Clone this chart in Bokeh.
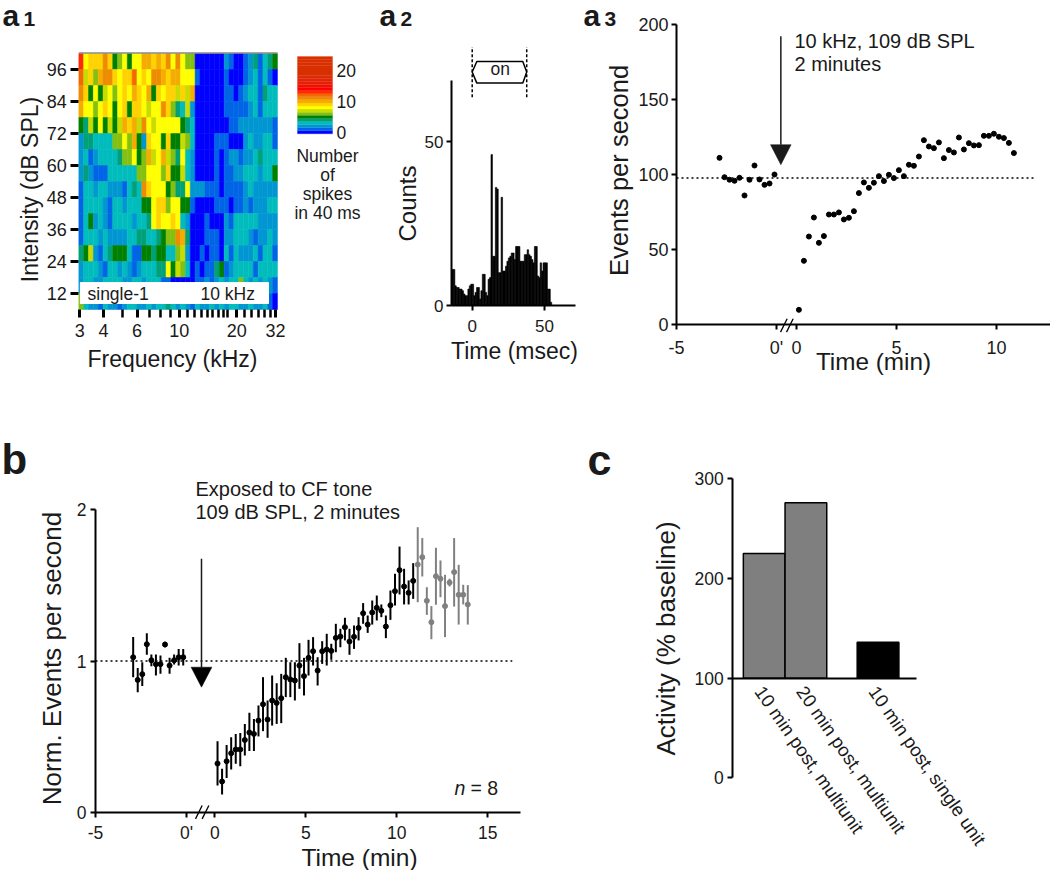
import math
import numpy as np
from bokeh.embed import file_html
from bokeh.resources import INLINE
from bokeh.layouts import row, column
from bokeh.models import (ColumnDataSource, FixedTicker, Label, LinearColorMapper, Range1d)
from bokeh.plotting import figure
from bokeh.transform import transform

FONT = "Liberation Sans"

# ---------- a1 data
heat_freq_low, heat_freq_high = 2.964, 32.77
heat_row_floor = [96, 90, 84, 78, 72, 66, 60, 54, 48, 42, 36, 30, 24, 18, 12, 6]
heat_rows = [
 [13,8,9,9,9,11,9,5,6,8,5,8,8,10,10,9,10,9,11,8,11,8,6,6,0,0,0,0,0,0,2,1,0,0,1,2,4,1,3,4,5],
 [12,7,9,6,10,11,11,9,8,9,9,12,8,9,8,11,11,10,9,10,10,8,8,8,1,0,0,0,0,0,1,0,0,0,1,2,3,1,3,1,0],
 [11,9,5,8,5,7,8,6,8,9,8,10,9,8,10,5,9,8,9,9,7,9,7,10,0,0,0,0,0,0,1,1,0,1,2,3,3,1,4,3,3],
 [10,8,8,6,8,9,8,5,8,9,5,9,9,8,7,8,8,11,9,6,4,3,7,2,0,0,0,0,0,0,1,1,1,1,1,2,3,1,3,3,3],
 [5,4,7,5,8,5,7,5,7,10,9,10,7,11,8,7,8,8,8,8,8,5,4,3,0,0,0,0,0,0,0,1,1,2,2,2,2,2,2,2,1],
 [2,4,4,3,3,3,3,6,6,8,6,10,5,2,9,8,8,5,9,5,5,7,6,3,0,0,0,0,1,1,1,0,0,0,2,3,2,2,3,3,1],
 [2,3,1,2,3,3,3,3,4,6,6,8,5,6,10,7,8,10,7,6,4,8,3,2,0,0,0,0,1,0,1,2,2,1,2,2,3,4,3,3,3],
 [2,4,2,1,1,1,3,3,3,3,3,3,6,6,8,8,8,6,9,5,5,7,3,2,0,0,0,0,1,0,1,1,2,2,3,3,3,2,3,3,5],
 [1,3,3,2,3,3,2,2,2,1,3,4,3,11,9,8,8,8,5,6,4,4,8,2,2,2,1,1,1,0,1,1,1,1,2,3,2,2,2,2,2],
 [1,3,3,3,3,2,1,3,3,2,3,3,3,5,5,8,9,9,6,8,8,5,5,1,0,0,0,0,1,1,1,0,1,1,2,1,2,2,2,3,3],
 [1,3,5,2,3,2,1,3,3,3,3,2,3,3,4,8,9,8,8,9,8,3,2,0,0,0,1,0,0,0,2,1,3,3,3,3,3,2,2,2,2],
 [1,3,3,3,2,3,2,2,2,2,3,3,4,4,3,3,4,5,6,6,11,10,4,0,0,0,1,1,1,0,2,2,3,3,3,2,1,2,2,3,2],
 [4,5,7,2,1,3,4,5,5,5,3,1,1,5,5,4,5,5,3,3,6,7,2,0,0,1,0,1,1,0,3,1,3,2,2,2,3,1,3,3,1],
 [2,3,3,3,2,1,3,3,2,3,2,1,2,3,3,3,4,4,8,5,7,6,3,0,1,0,1,1,4,5,1,2,3,3,3,3,1,3,3,3,3],
 [2,3,3,2,2,3,3,3,3,2,2,3,3,2,3,3,3,1,1,0,0,0,0,0,1,1,2,1,2,3,2,3,3,6,3,2,3,2,3,2,1],
 [6,3,2,2,1,3,2,2,1,2,3,3,2,2,3,2,3,3,4,3,2,3,2,1,3,2,2,3,2,3,2,3,3,2,2,3,2,2,3,1,0],
]
freq_ticks_labelled = [3, 4, 6, 10, 20, 32]
freq_ticks_minor = [5, 7, 8, 9, 11, 12, 13, 14, 15, 16, 17, 18, 22, 24, 26, 28, 30]
intensity_ticks = [12, 24, 36, 48, 60, 72, 84, 96]
level_palette = ["#0000ff","#0064e6","#0096d2","#00bcbc","#00a078","#008000","#84c010","#c8dc00",
                 "#ffff00","#ffd200","#f5ac00","#ee8c00","#f06a00","#ff2a00","#ff0000","#f01000",
                 "#e82008","#e02808","#dc2c08","#d83000","#d83000","#d83000","#d83000","#d83000","#d83000"]
colorbar_levels = list(range(25))
colorbar_ticks = [0, 10, 20]

# ---------- a2 data
psth_start = -14.0
psth_counts = [11,11,6,5.5,5.5,5,5,4.5,3.5,3,3,5,6,6.5,6.5,3,4,5.5,5.5,2,4.5,9.5,9.5,4,3,8,8.5,46,
               15,15,36,35.5,10,10,33,10.5,10.5,12,13.5,14.5,15,16,16,14,18,18,18,13.5,13.5,13.5,
               15.5,15.5,17,15.5,15,14,13,18,18,9,8.5,13,10.5,13,13,13,5,5,1,0]

# ---------- a3 data
a3_pre_t = [-2.85,-2.6,-2.35,-2.1,-1.85,-1.6,-1.35,-1.1,-0.85,-0.6,-0.35,-0.1]
a3_pre_v = [111.2,98.3,96.6,95.9,97.9,86.1,96.6,106.1,96.8,93.2,94.1,100.1]
a3_post_t = [0.12,0.37,0.62,0.87,1.12,1.37,1.62,1.87,2.12,2.37,2.62,2.87,3.12,3.37,3.62,3.87,4.12,
             4.37,4.62,4.87,5.12,5.37,5.62,5.87,6.12,6.37,6.62,6.87,7.12,7.37,7.62,7.87,8.12,8.37,
             8.62,8.87,9.12,9.37,9.62,9.87,10.12,10.37,10.62,10.87]
a3_post_v = [9.8,42.5,58.7,71.4,54.5,59,73.4,73.4,74.8,70.1,71.2,75.6,87.7,94.8,91.2,94.6,99,95.7,
             99.9,97.7,103,99,106.6,105.9,112.1,123,118.8,117.7,121.5,111,116.4,114.8,124.8,116.8,
             121,119.5,119.7,125.9,125.9,127.3,125.3,124.4,121.2,114.4]
a3_baseline = 97.7

# ---------- b data
b_pre_t = [-2.93,-2.68,-2.43,-2.18,-1.93,-1.68,-1.43,-1.18,-0.93,-0.68,-0.43,-0.18]
b_pre_v = [1.025,.875,.913,1.111,1.005,.979,.979,1.109,.970,1.005,1.025,1.025]
b_pre_hi = [1.158,.953,.992,1.184,1.043,1.043,1.036,1.127,1.021,1.043,1.080,1.080]
b_pre_lo = [.893,.794,.834,1.041,.966,.904,.915,1.091,.915,.977,.970,.970]
b_post_t = [0.15,0.4,0.65,0.9,1.15,1.4,1.65,1.9,2.15,2.4,2.65,2.9,3.15,3.4,3.65,3.9,4.15,4.4,4.65,
            4.9,5.15,5.4,5.65,5.9,6.15,6.4,6.65,6.9,7.15,7.4,7.65,7.9,8.15,8.4,8.65,8.9,9.15,9.4,
            9.65,9.9,10.15,10.4,10.65,10.9]
b_post_v = [.322,.203,.337,.390,.415,.415,.478,.527,.518,.606,.714,.613,.739,.723,.754,.893,.878,
            .871,.970,.900,1.021,1.065,.937,1.065,1.076,1.067,1.153,1.162,1.224,1.129,1.160,1.219,
            1.316,1.241,1.321,1.352,1.332,1.228,1.369,1.462,1.601,1.493,1.451,1.530]
b_post_hi = [.470,.287,.445,.496,.518,.523,.584,.657,.617,.706,.893,.739,.904,.853,.915,1.021,.992,
             .992,1.118,1.021,1.140,1.158,1.025,1.131,1.180,1.114,1.246,1.213,1.286,1.213,1.235,
             1.290,1.383,1.301,1.400,1.433,1.374,1.301,1.466,1.577,1.757,1.610,1.533,1.647]
b_post_lo = [.176,.117,.227,.282,.320,.304,.375,.404,.404,.501,.536,.492,.573,.584,.589,.761,.761,
             .739,.816,.772,.904,.970,.838,.981,.970,1.008,1.058,1.091,1.136,1.041,1.080,1.136,
             1.246,1.186,1.241,1.268,1.290,1.151,1.272,1.367,1.440,1.374,1.374,1.411]
b_late_t = [11.15,11.4,11.65,11.9,12.15,12.4,12.65,12.9,13.15,13.4,13.65,13.9]
b_late_v = [1.638,1.687,1.398,1.257,1.561,1.544,1.363,1.519,1.588,1.438,1.438,1.374]
b_late_hi = [1.885,1.813,1.488,1.363,1.749,1.665,1.570,1.544,1.813,1.636,1.504,1.502]
b_late_lo = [1.389,1.559,1.305,1.144,1.372,1.422,1.158,1.493,1.360,1.241,1.374,1.241]

# ---------- c data
c_labels = ["10 min post, multiunit", "20 min post, multiunit", "10 min post, single unit"]
c_pos = [1, 2, 3.73]
c_label_pos = [0.88, 1.88, 3.61]
c_vals = [225, 276, 136]
c_colors = ["#7f7f7f", "#7f7f7f", "#000000"]

LABEL_POS = {}


def span_at(a, b, v0, p0, v1, p1):
    """Axis values at page pixels a and b, given two anchors (value, pixel)."""
    k = (v1 - v0) / (p1 - p0)
    return v0 + (a - p0) * k, v0 + (b - p0) * k


def make(x0, x1, y0, y1, xa, ya, log_x=False, **kw):
    """Figure whose frame fills the page box x0..x1, y0..y1; axes are placed by fixed_location."""
    if log_x:
        l, r = span_at(x0, x1, math.log2(xa[0]), xa[1], math.log2(xa[2]), xa[3])
        xr = (2 ** l, 2 ** r)
        kw["x_axis_type"] = "log"
    else:
        xr = span_at(x0, x1, *xa)
    yt, yb = span_at(y0, y1, *ya)
    p = figure(width=x1 - x0, height=y1 - y0, x_range=Range1d(*xr), y_range=Range1d(yb, yt),
               min_border_left=0, min_border_right=0, min_border_top=0, min_border_bottom=0,
               output_backend="svg", toolbar_location=None, outline_line_color=None,
               background_fill_color=None, border_fill_color=None, **kw)
    p.grid.visible = False
    LABEL_POS[p.id] = (x0, y1)
    return p


def lab(p, text, x, y, size, angle=0, align="center", baseline="middle", style="normal"):
    fl, fb = LABEL_POS[p.id]
    p.add_layout(Label(x=x - fl, y=fb - y, x_units="screen", y_units="screen", text=text,
                       text_font=FONT, text_font_size=f"{size}px", text_color="#1a1a1a",
                       text_font_style=style, text_align=align, text_baseline=baseline,
                       angle=angle, angle_units="deg"))


def letter(p, text, x, baseline_y, size):
    """Panel letter whose baseline sits at baseline_y on the page."""
    lab(p, text, x, baseline_y - 0.38 * size, size, align="left", baseline="alphabetic", style="bold")


def style_axes(p, xfix, yfix, tick_size="17.5px"):
    p.xaxis.fixed_location = xfix
    p.yaxis.fixed_location = yfix
    for ax in [p.xaxis[0], p.yaxis[0]]:
        ax.major_label_text_font = FONT
        ax.major_label_text_font_size = tick_size
        ax.major_label_text_color = "#1a1a1a"
        ax.axis_line_width = 2
        ax.axis_line_color = "black"
        ax.major_tick_line_width = 2
        ax.major_tick_line_color = "black"
        ax.major_tick_in = 0
        ax.major_tick_out = 5
        ax.minor_tick_line_color = None


ROW1 = (0, 385)
ROW2 = (385, 870)

# ================= a1
a1 = make(0, 285, *ROW1, (3, 79.33, 32, 275), (6, 309, 102, 53), log_x=True)
edges = np.geomspace(heat_freq_low, heat_freq_high, len(heat_rows[0]) + 1)
ql, qr, qb, qt, qv = [], [], [], [], []
for floor, vals in zip(heat_row_floor, heat_rows):
    for i, v in enumerate(vals):
        ql.append(edges[i]); qr.append(edges[i + 1]); qb.append(floor); qt.append(floor + 6); qv.append(v)
mapper = LinearColorMapper(palette=level_palette, low=-0.5, high=24.5)
a1.quad(left="l", right="r", bottom="b", top="t",
        source=ColumnDataSource(dict(l=ql, r=qr, b=qb, t=qt, v=qv)),
        fill_color=transform("v", mapper), line_color=transform("v", mapper), line_width=0.5)
a1.line([heat_freq_low, heat_freq_high], [102.2, 102.2], line_color="#8a8a8a", line_width=1.5)
a1.quad(left=[3.02], right=[29.4], bottom=[8.25], top=[16.1], fill_color="white", line_color="white")
style_axes(a1, 6, heat_freq_low, "18px")
a1.xaxis.ticker = FixedTicker(ticks=freq_ticks_labelled, minor_ticks=freq_ticks_minor)
a1.xaxis.major_label_overrides = {t: str(t) for t in freq_ticks_labelled}
a1.yaxis.ticker = FixedTicker(ticks=intensity_ticks)
for ax in [a1.xaxis[0], a1.yaxis[0]]:
    ax.axis_line_color = None
    ax.major_tick_line_width = 3
    ax.major_tick_out = 8
a1.xaxis.minor_tick_line_color = "black"
a1.xaxis.minor_tick_line_width = 2.5
a1.xaxis.minor_tick_out = 8
a1.xaxis.minor_tick_in = 0
a1.xaxis.major_label_standoff = 6
a1.yaxis.major_label_standoff = 4
lab(a1, "single-1", 87, 293, 17.5, align="left")
lab(a1, "10 kHz", 200, 293, 17.5, align="left")
lab(a1, "Frequency (kHz)", 172, 358, 23)
lab(a1, "Intensity (dB SPL)", 29, 189, 23, angle=90)
letter(a1, "a", 2, 26, 30)
letter(a1, "1", 23, 26, 21)

# ================= colour bar
cb = make(285, 370, *ROW1, (0, 297, 1, 332), (0, 131.7, 20, 70),
          x_axis_location=None, y_axis_location="right")
cb.quad(left=0, right=1, bottom=[v - 0.5 for v in colorbar_levels],
        top=[v + 0.5 for v in colorbar_levels], fill_color=level_palette, line_color=level_palette,
        line_width=0.3)
cb_y = cb.yaxis[0]
cb_y.fixed_location = 1
cb_y.ticker = FixedTicker(ticks=colorbar_ticks)
cb_y.axis_line_color = None
cb_y.major_tick_line_color = None
cb_y.minor_tick_line_color = None
cb_y.major_tick_out = 0
cb_y.major_tick_in = 0
cb_y.major_label_standoff = 4
cb_y.major_label_text_font = FONT
cb_y.major_label_text_font_size = "17.5px"
cb_y.major_label_text_color = "#1a1a1a"
for txt, yy in zip(["Number", "of", "spikes", "in 40 ms"], [155, 174, 193, 212]):
    lab(cb, txt, 327, yy, 17.5)

# ================= a2
a2 = make(370, 580, *ROW1, (0, 471.7, 50, 544), (0, 305, 50, 141))
bin_left = [psth_start + i for i in range(len(psth_counts))]
a2.quad(left=bin_left, right=[b + 1 for b in bin_left], bottom=0, top=psth_counts,
        fill_color="black", line_color="black", line_width=0.6)
style_axes(a2, 0, -14.3, "17px")
a2.xaxis.bounds = (-14.3, 71.7)
a2.xaxis.ticker = FixedTicker(ticks=[0, 50])
a2.xaxis.major_label_standoff = 9
a2.yaxis.bounds = (0, 68.6)
a2.yaxis.ticker = FixedTicker(ticks=[0, 50])
a2.yaxis.major_label_standoff = 3
for x_on in [0, 37.7]:
    a2.line([x_on, x_on], [63.5, 78.8], line_color="black", line_width=1.5, line_dash="3 2")
a2.patch([0, 3.2, 35, 37.7, 35, 3.2], [71.2, 74.4, 74.4, 71.2, 67.8, 67.8],
         fill_color="white", line_color="black", line_width=1.5)
lab(a2, "on", 499.7, 68.3, 17.5)
lab(a2, "Counts", 406.5, 203, 24, angle=90)
lab(a2, "Time (msec)", 514, 350, 23)
letter(a2, "a", 379, 26, 30)
letter(a2, "2", 400, 26, 21)

# ================= a3
A3_GAP = 1.0
a3 = make(580, 1050, *ROW1, (-5, 676, 11, 996), (0, 324, 200, 24.3))
a3.line([-5, 13], [a3_baseline, a3_baseline], line_color="black", line_width=1.5, line_dash="2 3")
a3.scatter(a3_pre_t, a3_pre_v, size=5, color="black")
a3.scatter([t + A3_GAP for t in a3_post_t], a3_post_v, size=5, color="black")
a3.line([0.217, 0.217], [192.4, 120], line_color="#1a1a1a", line_width=1.5)
a3.patch([-0.3, 0.73, 0.217], [120, 120, 106.6], fill_color="#1a1a1a", line_color="#1a1a1a", line_width=0.5)
a3.segment([0.2, 0.5], [-5.1, -5.1], [0.533, 0.833], [3.8, 3.8], line_color="black", line_width=1.3)
style_axes(a3, 0, -5, "18px")
a3.xaxis.bounds = (-5, 13.7)
a3.xaxis.ticker = FixedTicker(ticks=[-5, 0, 1, 6, 11])
a3.xaxis.major_label_overrides = {-5: "-5", 0: "0'", 1: "0", 6: "5", 11: "10"}
a3.xaxis.major_label_standoff = 8
a3.yaxis.bounds = (0, 200)
a3.yaxis.ticker = FixedTicker(ticks=[0, 50, 100, 150, 200])
a3.yaxis.major_label_standoff = 3
lab(a3, "Events per second", 618, 170, 25.5, angle=90)
lab(a3, "Time (min)", 873, 361, 24.3)
lab(a3, "10 kHz, 109 dB SPL", 794, 40, 20, align="left")
lab(a3, "2 minutes", 794, 63, 20, align="left")
letter(a3, "a", 583, 26, 30)
letter(a3, "3", 604, 26, 21)

# ================= b
B_GAP = 1.555
b = make(0, 560, *ROW2, (-5, 95, 0, 186), (0, 811.7, 2, 509.3))
b.line([-5, 17.9], [1, 1], line_color="black", line_width=1.5, line_dash="2 3")
for ts, vs, hi, lo, col, gap in [(b_pre_t, b_pre_v, b_pre_hi, b_pre_lo, "black", 0),
                                 (b_post_t, b_post_v, b_post_hi, b_post_lo, "black", B_GAP),
                                 (b_late_t, b_late_v, b_late_hi, b_late_lo, "#808080", B_GAP)]:
    xs = [t + gap for t in ts]
    b.segment(xs, lo, xs, hi, line_color=col, line_width=2)
    b.scatter(xs, vs, size=5, color=col)
b.line([0.824, 0.824], [1.676, 0.959], line_color="#1a1a1a", line_width=1.5)
b.patch([0.254, 1.394, 0.824], [0.959, 0.959, 0.827], fill_color="black", line_color="black", line_width=0.5)
b.segment([0.495, 0.861], [-0.044, -0.044], [0.861, 1.227], [0.044, 0.044], line_color="black", line_width=1.3)
style_axes(b, 0, -5, "17.5px")
b.xaxis.ticker = FixedTicker(ticks=[-5, 0, B_GAP, 5 + B_GAP, 10 + B_GAP, 15 + B_GAP])
b.xaxis.major_label_overrides = {-5: "-5", 0: "0'", B_GAP: "0", 5 + B_GAP: "5", 10 + B_GAP: "10", 15 + B_GAP: "15"}
b.xaxis.major_label_standoff = 6
b.xaxis.bounds = (-5, 18.35)
b.yaxis.bounds = (0, 2)
b.yaxis.ticker = FixedTicker(ticks=[0, 1, 2])
b.yaxis.major_label_standoff = 4
lab(b, "Norm. Events per second", 51, 658, 26, angle=90)
lab(b, "Time (min)", 359, 857, 24.5)
lab(b, "Exposed to CF tone", 195, 488, 20, align="left")
lab(b, "109 dB SPL, 2 minutes", 195, 511, 20, align="left")
lab(b, "n", 454, 787, 19.5, align="left", style="italic")
lab(b, "= 8", 470, 787, 19.5, align="left")
letter(b, "b", 1, 475, 42)

# ================= c
c = make(560, 1050, *ROW2, (1, 763.7, 2, 805.4), (0, 777.3, 300, 478.3))
c.vbar(x=c_pos, top=c_vals, bottom=100, width=1.0, fill_color=c_colors, line_color="black", line_width=1.5)
style_axes(c, 100, 0.244, "17.5px")
c.xaxis.bounds = (0.244, 4.66)
c.xaxis.ticker = FixedTicker(ticks=c_label_pos)
c.xaxis.major_label_overrides = dict(zip(c_label_pos, c_labels))
c.xaxis.major_label_orientation = -math.radians(55)
c.xaxis.major_tick_line_color = None
c.xaxis.major_tick_out = 0
c.xaxis.major_label_standoff = 10
c.xaxis.major_label_text_font_size = "18.5px"
c.yaxis.bounds = (0, 300)
c.yaxis.ticker = FixedTicker(ticks=[0, 100, 200, 300])
c.yaxis.major_label_standoff = 4
lab(c, "Activity (% baseline)", 665, 638, 26, angle=90)
letter(c, "c", 587, 476, 43)

root = column(row(a1, cb, a2, a3), row(b, c))
open("out.html", "w").write(file_html(root, INLINE))
